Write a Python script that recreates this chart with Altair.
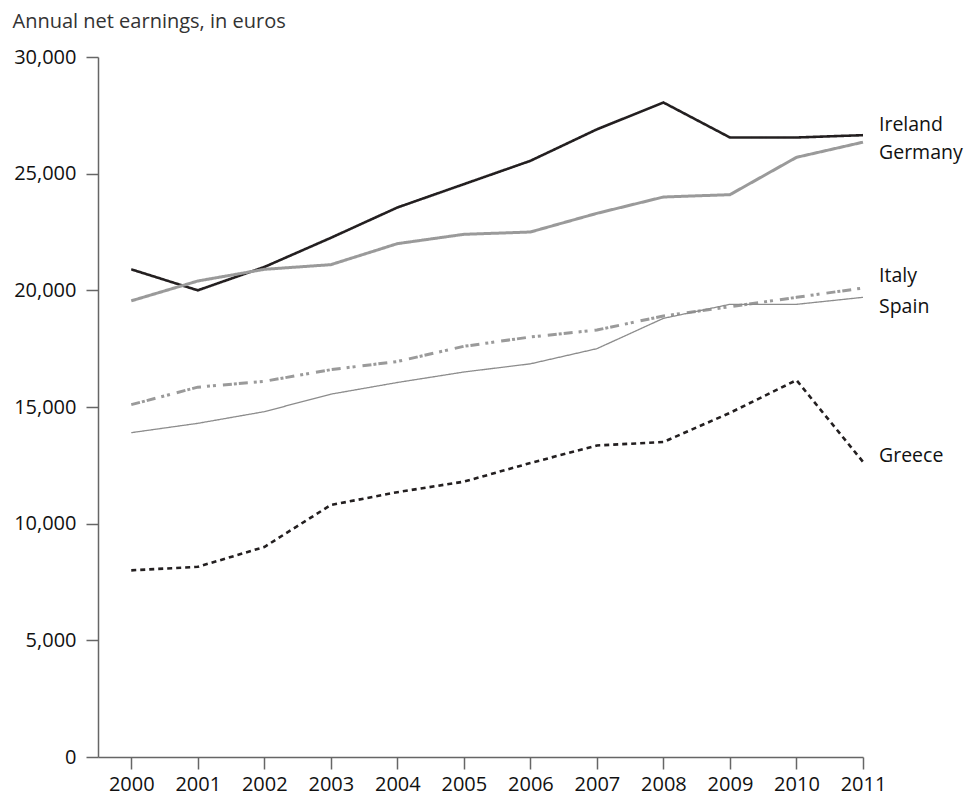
import altair as alt
import pandas as pd

years = list(range(2000, 2012))
ireland = [20900, 20000, 21000, 22250, 23550, 24550, 25550, 26900, 28050, 26550, 26550, 26650]
germany = [19550, 20400, 20900, 21100, 22000, 22400, 22500, 23300, 24000, 24100, 25700, 26350]
italy = [15100, 15850, 16100, 16600, 16950, 17600, 18000, 18300, 18900, 19300, 19700, 20100]
spain = [13900, 14300, 14800, 15550, 16050, 16500, 16850, 17500, 18800, 19400, 19400, 19700]
greece = [8000, 8150, 9000, 10800, 11350, 11800, 12600, 13350, 13500, 14750, 16150, 12650]

countries = ["Ireland", "Germany", "Italy", "Spain", "Greece"]
series = [ireland, germany, italy, spain, greece]
label_y = [27100, 25900, 20600, 19300, 12900]

colors = ["#231f20", "#9a9a9a", "#9a9a9a", "#8c8c8c", "#231f20"]
widths = [2.6, 3.0, 3.0, 1.3, 2.6]
dashes = [[1, 0], [1, 0], [9, 2, 3, 2, 9, 6, 3, 3, 3, 7], [1, 0], [5, 4]]

rows = []
for c, vals in zip(countries, series):
    for y, v in zip(years, vals):
        rows.append({"country": c, "year": y, "value": v})
df = pd.DataFrame(rows)
labels = pd.DataFrame({"country": countries, "year": [2011] * 5, "value": label_y})

x_enc = alt.X("year:Q",
              scale=alt.Scale(domain=[1999.5, 2011], nice=False, zero=False),
              axis=alt.Axis(values=years, format="d", title=None, grid=False,
                            tickSize=12, labelPadding=5, labelFontSize=20,
                            labelColor="#111", domainColor="#666", tickColor="#666",
                            domainWidth=1.5, tickWidth=1.5, labelFlush=False))
y_enc = alt.Y("value:Q",
              scale=alt.Scale(domain=[0, 30000], nice=False),
              axis=alt.Axis(values=list(range(0, 30001, 5000)), format=",.0f",
                            title="Annual net earnings, in euros", grid=False,
                            tickSize=12, labelPadding=10, labelFontSize=20,
                            labelColor="#111", domainColor="#666", tickColor="#666",
                            domainWidth=1.5, tickWidth=1.5,
                            titleAngle=0, titleAlign="left", titleBaseline="alphabetic",
                            titleX=-86, titleY=-30, titleFontSize=20,
                            titleFontWeight="normal", titleColor="#333"))

layers = []
for c, col, w, d in zip(countries, colors, widths, dashes):
    layers.append(
        alt.Chart(df).transform_filter(alt.datum.country == c)
        .mark_line(color=col, strokeWidth=w, strokeDash=d, strokeJoin="miter")
        .encode(x=x_enc, y=y_enc)
    )

text = alt.Chart(labels).mark_text(align="left", baseline="middle", dx=16,
                                   fontSize=19.5, color="#111").encode(
    x=alt.X("year:Q"), y=alt.Y("value:Q"), text="country:N")

chart = alt.layer(*layers, text).properties(
    width=765, height=700,
    autosize=alt.AutoSizeParams(type="none"),
    padding={"left": 90, "top": 49, "right": 101, "bottom": 38},
).configure(font="Open Sans").configure_view(stroke=None)

chart.save("out.html", embed_options={"renderer": "svg", "actions": False})
